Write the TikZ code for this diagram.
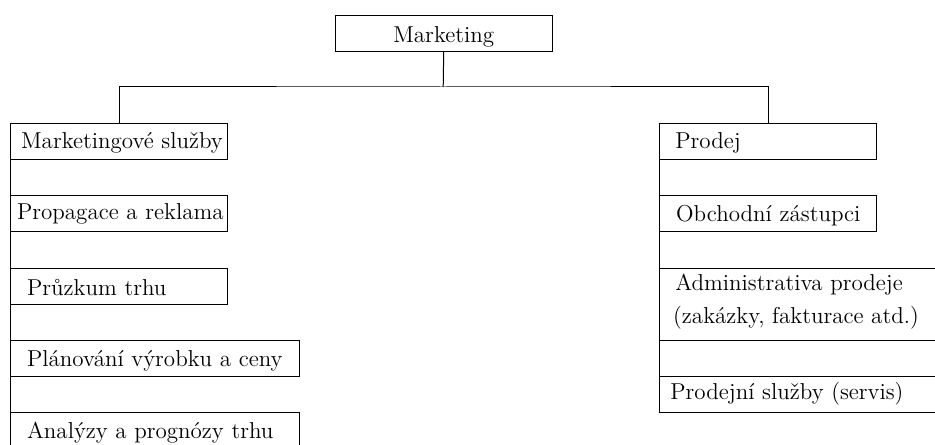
\documentclass[tikz,border=0pt]{standalone}
\usepackage{fontspec}
\begin{document}
\begin{tikzpicture}[x=0.5pt,y=-0.5pt,
  unit/.style={draw, line width=0.5pt, rectangle, inner sep=0pt,
    anchor=north west, align=left, minimum height=18pt,
    text height=12.8pt, text depth=5.2pt,
    font=\fontsize{11.5}{16.5}\selectfont},
  narrow/.style={unit, text width=108.5pt},
  wide/.style={unit, text width=144.5pt},
  link/.style={line width=0.5pt}]

% page frame
\path[use as bounding box] (0,0) rectangle (935,444);
\clip (0,0) rectangle (935,444);

% root
\node[narrow, align=center, text height=13.8pt, text depth=4.2pt] (mkt) at (334.7,14.7) {Marketing};

% left branch
\node[narrow, text height=12.2pt, text depth=5.8pt] (ms) at (10,123.3) {\hspace*{5.3pt}\mbox{Marketingové služby}};
\node[narrow, text height=11.8pt, text depth=6.2pt] (pr) at (10,195.3) {\hspace*{3.3pt}\mbox{Propagace a reklama}};
\node[narrow, text height=13.4pt, text depth=4.6pt] (pt) at (10,267.7) {\hspace*{8.3pt}Průzkum trhu};
\node[wide,   text height=13pt,   text depth=5pt]   (pv) at (10,339.7) {\hspace*{8.3pt}Plánování výrobku a ceny};
\node[wide,   text height=13pt,   text depth=5pt]   (ap) at (10,412)   {\hspace*{8.3pt}Analýzy a prognózy trhu};

% right branch
\node[narrow, text height=12.5pt, text depth=5.5pt] (sal) at (659.3,123.3) {\hspace*{7.8pt}Prodej};
\node[narrow, text height=13pt,   text depth=5pt]   (oz)  at (659.3,195.3) {\hspace*{8.2pt}Obchodní zástupci};
\node[wide, minimum height=36pt, text height=11.2pt, text depth=24.8pt] (adm) at (659.3,267.7)
  {\hspace*{7.8pt}Administrativa prodeje\\\hspace*{6.7pt}(zakázky, fakturace atd.)};
\node[wide,   text height=11.4pt, text depth=6.6pt] (ps)  at (659.3,375.7) {\hspace*{5.3pt}Prodejní služby (servis)};

% connectors
\coordinate (bus) at (443.2,87);
\draw[link] (mkt.south) -- (bus);
\draw[link] (ms.north) |- (bus) -| (sal.north);

\draw[link] (ms.south west) -- (pr.north west)
            (pr.south west) -- (pt.north west)
            (pt.south west) -- (pv.north west)
            (pv.south west) -- (ap.north west);

\draw[link] (sal.south west) -- (oz.north west)
            (oz.south west)  -- (adm.north west)
            (adm.south west) -- (ps.north west);
\end{tikzpicture}
\end{document}
